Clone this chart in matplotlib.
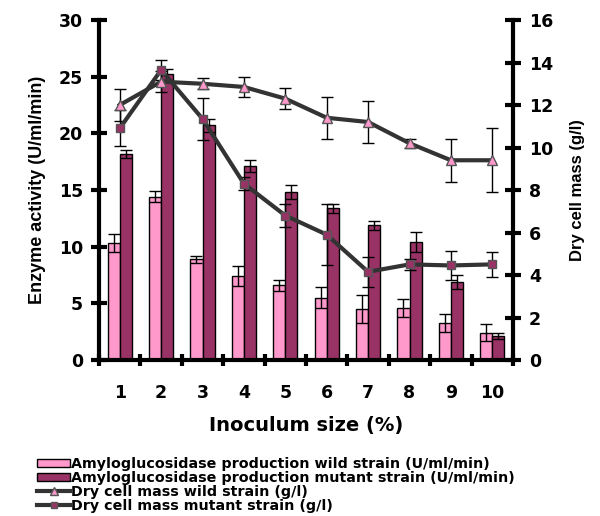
import numpy as np
import matplotlib
matplotlib.use('Agg')
import matplotlib.pyplot as plt
from matplotlib.lines import Line2D
from matplotlib.patches import Patch

plt.rcParams['font.family'] = ['DejaVu Sans']
plt.rcParams['font.weight'] = 'bold'
narrow = ['Liberation Sans', 'DejaVu Sans']

# inoculum size (%)
inoculum = ['1', '2', '3', '4', '5', '6', '7', '8', '9', '10']

# enzyme activity (U/ml/min)
wild_act = [10.3, 14.4, 8.9, 7.4, 6.6, 5.5, 4.5, 4.6, 3.3, 2.4]
wild_act_err = [0.8, 0.5, 0.3, 0.9, 0.5, 0.9, 1.2, 0.8, 0.8, 0.75]
mut_act = [18.2, 25.2, 20.7, 17.1, 14.8, 13.4, 11.9, 10.4, 6.9, 2.1]
mut_act_err = [0.35, 0.5, 0.6, 0.55, 0.6, 0.4, 0.4, 0.9, 0.6, 0.25]

# dry cell mass (g/l)
wild_dcm = [12.0, 13.1, 13.0, 12.85, 12.3, 11.4, 11.2, 10.2, 9.4, 9.4]
wild_dcm_err = [0.75, 0.5, 0.25, 0.45, 0.5, 1.0, 1.0, 0.2, 1.0, 1.5]
mut_dcm = [10.9, 13.65, 11.35, 8.3, 6.8, 5.9, 4.15, 4.5, 4.45, 4.5]
mut_dcm_err = [0.85, 0.45, 1.0, 0.3, 0.55, 1.45, 0.7, 0.25, 0.7, 0.6]

pink = '#ff99cc'
plum = '#993366'
line_col = '#333333'

fig = plt.figure(figsize=(6.0, 5.16), dpi=100)
ax = fig.add_axes([0.165, 0.3023, 0.69, 0.6589])
ax2 = ax.twinx()

x = np.arange(len(inoculum))
w = 0.29
ekw = dict(ecolor='black', elinewidth=1.0, capsize=4, capthick=1.0)
ax.bar(x - w / 2, wild_act, w, color=pink, edgecolor='black', linewidth=1.0,
       yerr=wild_act_err, error_kw=ekw, zorder=2)
ax.bar(x + w / 2, mut_act, w, color=plum, edgecolor='black', linewidth=1.0,
       yerr=mut_act_err, error_kw=ekw, zorder=2)

ax2.errorbar(x, wild_dcm, yerr=wild_dcm_err, color=line_col, lw=3, marker='^',
             ms=7, mfc=pink, mec='#555555', mew=1, ecolor='black', elinewidth=1,
             capsize=4, capthick=1)
ax2.errorbar(x, mut_dcm, yerr=mut_dcm_err, color=line_col, lw=3, marker='s',
             ms=6, mfc=plum, mec='#555555', mew=1, ecolor='black', elinewidth=1,
             capsize=4, capthick=1)

ax.set_xlim(-0.5, len(inoculum) - 0.5)
ax.set_ylim(0, 30)
ax2.set_ylim(0, 16)
ax.set_yticks(np.arange(0, 31, 5))
ax2.set_yticks(np.arange(0, 17, 2))
ax.set_xticks(x)
ax.set_xticklabels(inoculum)
ax.set_xticks(np.arange(-0.5, len(inoculum)), minor=True)

for a in (ax, ax2):
    a.spines['top'].set_visible(False)
    for s in ('left', 'right', 'bottom'):
        a.spines[s].set_linewidth(3)
ax.spines['right'].set_visible(False)
ax2.spines['left'].set_visible(False)
ax2.spines['bottom'].set_visible(False)

ax.tick_params(axis='x', which='major', length=0, pad=17, labelsize=12.5)
ax.tick_params(axis='x', which='minor', direction='inout', length=8, width=3)
ax.tick_params(axis='y', direction='inout', length=11, width=3, labelsize=12.5, pad=6)
ax2.tick_params(axis='y', direction='inout', length=11, width=3, labelsize=12.5, pad=6)

ax.set_xlabel('Inoculum size (%)', fontsize=14, fontweight='bold', labelpad=10)
ax.set_ylabel('Enzyme activity (U/ml/min)', family=narrow, fontsize=13,
              fontweight='bold', labelpad=9)
ax2.set_ylabel('Dry cell mass (g/l)', family=narrow, fontsize=12,
               fontweight='bold', labelpad=12)

handles = [
    Patch(facecolor=pink, edgecolor='black', linewidth=1.0),
    Patch(facecolor=plum, edgecolor='black', linewidth=1.0),
    Line2D([], [], color=line_col, lw=3, marker='^', ms=6, mfc=pink, mec='#555555'),
    Line2D([], [], color=line_col, lw=3, marker='s', ms=5, mfc=plum, mec='#555555'),
]
labels = [
    'Amyloglucosidase production wild strain (U/ml/min)',
    'Amyloglucosidase production mutant strain (U/ml/min)',
    'Dry cell mass wild strain (g/l)',
    'Dry cell mass mutant strain (g/l)',
]
fig.legend(handles, labels, loc='upper left', bbox_to_anchor=(0.05, 0.128),
           frameon=False, fontsize=10.3, handlelength=2.3, handleheight=0.55,
           handletextpad=0.1, labelspacing=0.0, borderpad=0.0)

fig.savefig('out.png', dpi=100)
